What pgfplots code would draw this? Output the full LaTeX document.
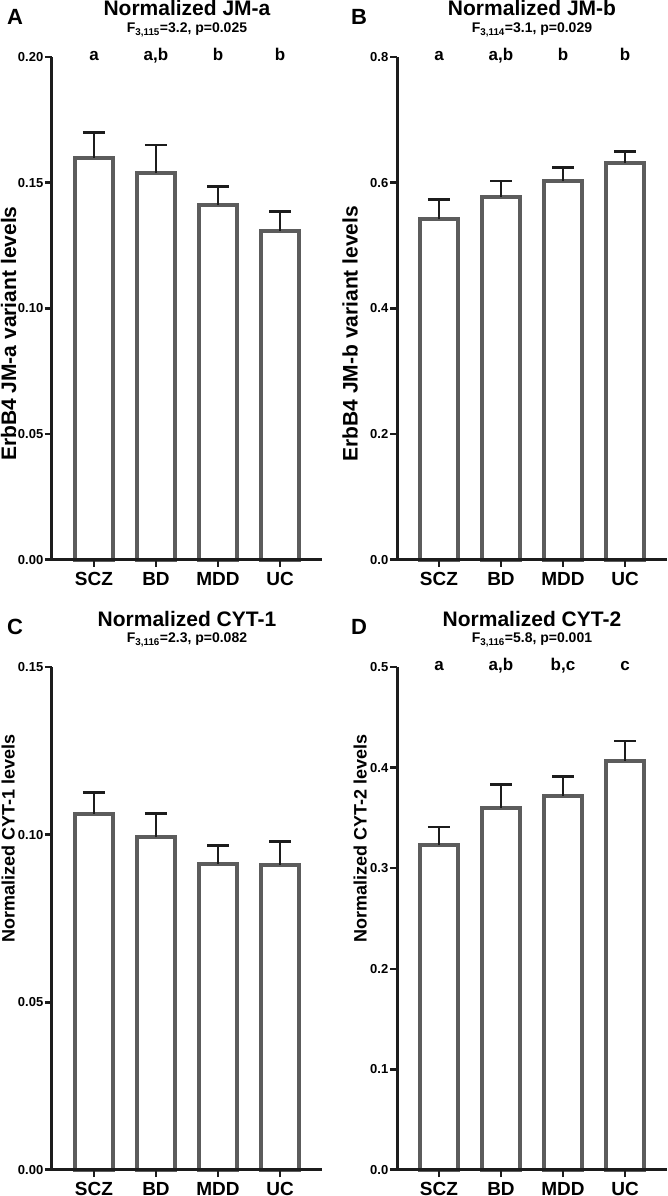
\documentclass[border=0pt]{standalone}
\usepackage{fontspec}
\setmainfont{Liberation Sans}
\usepackage{pgfplots}
\pgfplotsset{compat=1.18}

\definecolor{barGray}{RGB}{92,92,92}
\definecolor{inkBlack}{RGB}{28,28,28}
\newcommand{\fs}[1]{\fontsize{#1}{#1}\selectfont\bfseries}

\tikzset{letter/.style={anchor=base, font=\fs{17}}}
\pgfplotsset{
  panel/.style={
    scale only axis, width=270pt, height=503pt,
    xmin=-0.677, xmax=3.677, ymin=0,
    axis x line*=bottom, axis y line*=left,
    axis line style={line width=3pt, inkBlack},
    x axis line style={shorten <=-7pt},
    xtick={0,1,2,3}, xticklabels={SCZ,BD,MDD,UC},
    tick align=outside, major tick length=7pt,
    major tick style={line width=2.5pt, inkBlack},
    xticklabel style={font=\fs{19}, inner sep=0pt, yshift=-5pt},
    yticklabel style={font=\fs{13}, inner sep=1.5pt},
    /pgf/number format/assume math mode=true,
    ybar, bar width=38pt, clip=false, axis on top,
    ylabel style={inner sep=0pt, anchor=south},
  },
  bars/.style={draw=barGray, fill=white, line width=4pt,
    error bars/.cd, y dir=plus, y explicit,
    error bar style={line width=2.5pt, inkBlack},
    error mark options={rotate=90, mark size=11pt, line width=2.5pt, inkBlack}},
}

\begin{document}
\begin{tikzpicture}[x=1pt, y=1pt]
\useasboundingbox (0,0) rectangle (668,1196);

% A
\begin{axis}[panel, at={(52pt,636pt)}, anchor=south west,
  ymax=0.20, ytick={0,0.05,0.1,0.15,0.2},
  yticklabel style={/pgf/number format/.cd, fixed, fixed zerofill, precision=2},
  ylabel={ErbB4 JM-a variant levels},
  ylabel style={font=\fs{21}, at={(axis description cs:-0.131,0.45)}}]
\addplot[bars] coordinates {(0,0.160) +- (0,0.010) (1,0.154) +- (0,0.011)
  (2,0.141) +- (0,0.0075) (3,0.131) +- (0,0.0075)};
\node[letter] at (axis cs:0,0.1988) {a};
\node[letter] at (axis cs:1,0.1988) {a,b};
\node[letter] at (axis cs:2,0.1988) {b};
\node[letter] at (axis cs:3,0.1988) {b};
\end{axis}

% B
\begin{axis}[panel, at={(397pt,636pt)}, anchor=south west,
  ymax=0.8, ytick={0,0.2,0.4,0.6,0.8},
  yticklabel style={/pgf/number format/.cd, fixed, fixed zerofill, precision=1},
  ylabel={ErbB4 JM-b variant levels},
  ylabel style={font=\fs{21}, at={(axis description cs:-0.144,0.45)}}]
\addplot[bars] coordinates {(0,0.542) +- (0,0.031) (1,0.578) +- (0,0.025)
  (2,0.602) +- (0,0.022) (3,0.632) +- (0,0.018)};
\node[letter] at (axis cs:0,0.795) {a};
\node[letter] at (axis cs:1,0.795) {a,b};
\node[letter] at (axis cs:2,0.795) {b};
\node[letter] at (axis cs:3,0.795) {b};
\end{axis}

% C
\begin{axis}[panel, at={(52pt,26pt)}, anchor=south west,
  ymax=0.15, ytick={0,0.05,0.1,0.15},
  yticklabel style={/pgf/number format/.cd, fixed, fixed zerofill, precision=2},
  ylabel={Normalized CYT-1 levels},
  ylabel style={font=\fs{18}, at={(axis description cs:-0.137,0.66)}}]
\addplot[bars] coordinates {(0,0.1063) +- (0,0.0062) (1,0.0994) +- (0,0.0069)
  (2,0.0914) +- (0,0.0053) (3,0.0911) +- (0,0.0068)};
\end{axis}

% D
\begin{axis}[panel, at={(397pt,26pt)}, anchor=south west,
  ymax=0.5, ytick={0,0.1,0.2,0.3,0.4,0.5},
  yticklabel style={/pgf/number format/.cd, fixed, fixed zerofill, precision=1},
  ylabel={Normalized CYT-2 levels},
  ylabel style={font=\fs{18}, at={(axis description cs:-0.111,0.66)}}]
\addplot[bars] coordinates {(0,0.323) +- (0,0.018) (1,0.360) +- (0,0.023)
  (2,0.372) +- (0,0.019) (3,0.4066) +- (0,0.020)};
\node[letter] at (axis cs:0,0.497) {a};
\node[letter] at (axis cs:1,0.497) {a,b};
\node[letter] at (axis cs:2,0.497) {b,c};
\node[letter] at (axis cs:3,0.497) {c};
\end{axis}

% panel letters and titles
\node[anchor=base west, inner sep=0pt, font=\fs{22}] at (7,1171) {A};
\node[anchor=base west, inner sep=0pt, font=\fs{22}] at (351,1171) {B};
\node[anchor=base west, inner sep=0pt, font=\fs{22}] at (7,561) {C};
\node[anchor=base west, inner sep=0pt, font=\fs{22}] at (351,561) {D};

\node[anchor=base, font=\fs{21}] at (187,1180) {Normalized JM-a};
\node[anchor=base, font=\fs{14}] at (187,1163) {F\textsubscript{3,115}=3.2, p=0.025};
\node[anchor=base, font=\fs{21}] at (532,1180) {Normalized JM-b};
\node[anchor=base, font=\fs{14}] at (532,1163) {F\textsubscript{3,114}=3.1, p=0.029};
\node[anchor=base, font=\fs{21}] at (187,569) {Normalized CYT-1};
\node[anchor=base, font=\fs{14}] at (187,553) {F\textsubscript{3,116}=2.3, p=0.082};
\node[anchor=base, font=\fs{21}] at (532,569) {Normalized CYT-2};
\node[anchor=base, font=\fs{14}] at (532,553) {F\textsubscript{3,116}=5.8, p=0.001};
\end{tikzpicture}
\end{document}
